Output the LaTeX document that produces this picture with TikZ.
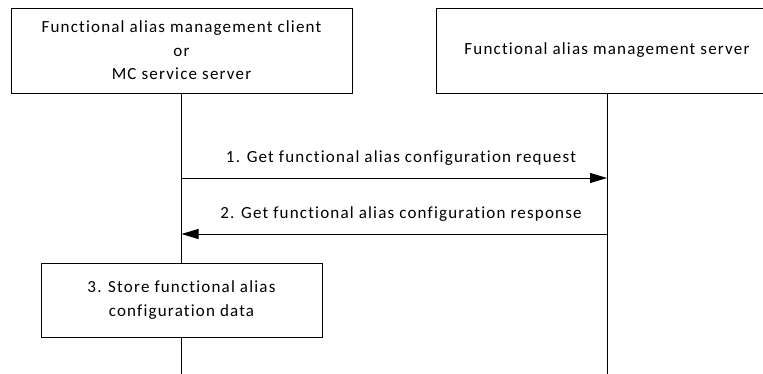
\documentclass[tikz,border=0pt]{standalone}
\usepackage{fontspec}
\setmainfont{Carlito}[LetterSpace=7,Ligatures=NoCommon]
\usetikzlibrary{arrows.meta}
\begin{document}
\begin{tikzpicture}[x=1pt,y=-1pt,
  box/.style={draw,line width=0.8pt,inner sep=0pt},
  lbl/.style={font=\fontsize{17}{23.5}\selectfont,align=center},
  life/.style={line width=0.8pt},
  msg/.style={line width=0.8pt,-{Triangle[length=17pt,width=10pt]}}]
\useasboundingbox (0,0) rectangle (763,374);
\node[box,minimum width=341pt,minimum height=85pt] (A) at (181.5,50.5) {};
\node[lbl] (At) at (A.center) {Functional alias management client\\or\\MC service server};
\node[box,minimum width=341pt,minimum height=85pt] (B) at (607,50.5) {};
\node[lbl] (Bt) at (B.center) {Functional alias management server};
\coordinate (Aend) at (181.5,374);
\coordinate (Bend) at (607,374);
\node[box,minimum width=281pt,minimum height=74pt,fill=white] (C) at (181.5,300) {};
\node[lbl] (Ct) at (C.center) {3. Store functional alias\\configuration data};
\draw[life] (A.south) -- (C.north);
\draw[life] (C.south) -- (Aend);
\draw[life] (B.south) -- (Bend);
\coordinate (m1a) at (181.5,178);
\coordinate (m1b) at (607,178);
\coordinate (m2a) at (181.5,234);
\coordinate (m2b) at (607,234);
\draw[msg] (m1a) -- (m1b);
\draw[msg] (m2b) -- (m2a);
\node[lbl] (l1) at (401,158) {1. Get functional alias configuration request};
\node[lbl] (l2) at (401,214) {2. Get functional alias configuration response};
\end{tikzpicture}
\end{document}
